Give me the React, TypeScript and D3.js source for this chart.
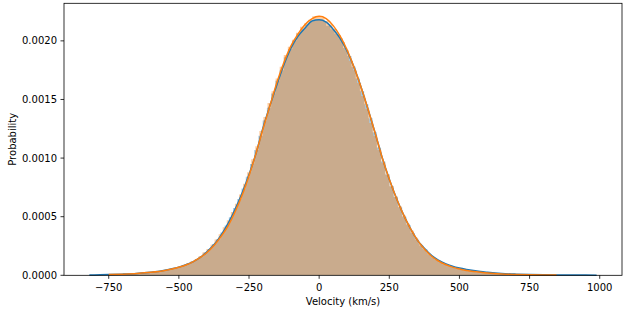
import React from "react";
import * as d3 from "d3";

// Histogram bin ranges (km/s)
const blueRange = [-819, 989];
const orangeRange = [-750, 846];

// Histogram densities (units of 1e-5)
const blueHist = [
  0.3, 0.4, 0.4, 0.5, 0.6, 0.7, 0.8, 0.9, 1.1, 1.2,
  1.4, 1.6, 1.9, 2.2, 2.6, 2.9, 3.5, 4.1, 4.7, 5.4,
  6.3, 7.3, 8.6, 9.9, 11.7, 13.6, 16.2, 19.4, 22.5, 26.8,
  30.8, 36.5, 42.5, 49.5, 57.5, 65, 74, 84, 95, 107,
  119, 132, 143, 155, 166, 175, 186, 193, 200, 206,
  210, 214, 216, 218, 218, 217, 213, 210, 206, 202,
  194, 187, 178, 168, 157, 146, 134, 122, 109, 97,
  86, 76, 67, 58, 50, 43, 36, 30.5, 25.5, 22,
  18, 15, 13, 11, 9.5, 8.2, 7.1, 6.2, 5.5, 4.7,
  4.2, 3.7, 3.2, 2.8, 2.5, 2.1, 1.8, 1.6, 1.4, 1.2,
  1.0, 0.9, 0.8, 0.7, 0.6, 0.5, 0.5, 0.4, 0.4, 0.3,
  0.3, 0.3, 0.2, 0.2, 0.2, 0.2, 0.1, 0.1, 0.1, 0.1,
];

const orangeHist = [
  0.6, 0.7, 0.8, 0.9, 1.0, 1.2, 1.4, 1.6, 1.9, 2.2,
  2.5, 2.9, 3.4, 4.0, 4.6, 5.3, 6.2, 7.2, 8.4, 10.0,
  11.8, 13.4, 16, 19.5, 22.5, 26, 30.5, 35, 41, 47,
  54, 61, 69, 78, 88, 99, 110, 123, 135, 147,
  157, 168, 178, 188, 195, 201, 207, 212, 215, 218,
  221, 221, 220, 217, 214, 210, 205, 199, 192, 183,
  175, 164, 153, 142, 130, 119, 107, 96, 86, 76,
  67, 59, 51, 44, 38, 32, 27, 22.5, 19, 16,
  13.2, 11, 9.3, 7.8, 6.6, 5.6, 4.8, 4.1, 3.5, 3.0,
  2.6, 2.2, 1.9, 1.6, 1.4, 1.2, 1.0, 0.9, 0.8, 0.7,
  0.6, 0.5, 0.5, 0.4, 0.4, 0.3, 0.3, 0.3, 0.2, 0.2,
];

// KDE curves (x in km/s, density in 1e-5)
const blueKdeX = [
  -819, -800, -750, -700, -650, -600, -575, -550, -525, -500, -475, -450, -425, -400,
  -375, -350, -325, -300, -275, -250, -225, -200, -175, -150, -125, -100, -75, -50, -25,
  0, 25, 50, 75, 100, 125, 150, 175, 200, 225, 250, 275, 300, 325, 350, 375, 400,
  425, 450, 475, 500, 525, 550, 575, 600, 650, 700, 750, 800, 850, 900, 950, 989,
];
const blueKdeY = [
  0.3, 0.35, 0.6, 1.0, 1.6, 2.6, 3.3, 4.3, 5.5, 7, 9, 11.5, 15, 20,
  26, 34, 44, 56, 70, 86, 104, 126, 145, 163, 180, 194, 204, 211, 217,
  218, 216, 210, 202, 191, 177, 160, 141, 121, 100, 82, 66, 52, 40, 30, 23, 17,
  13, 10, 7.8, 6.2, 5, 4, 3.2, 2.6, 1.6, 1.0, 0.6, 0.4, 0.3, 0.2, 0.15, 0.1,
];

const orangeKdeX = [
  -750, -700, -650, -600, -550, -500, -475, -450, -425, -400, -375, -350, -325, -300,
  -275, -250, -225, -200, -175, -150, -125, -100, -75, -50, -25, 0, 25, 50, 75, 100,
  125, 150, 175, 200, 225, 250, 275, 300, 325, 350, 375, 400, 425, 450, 475, 500,
  525, 550, 575, 600, 650, 700, 750, 800, 846,
];
const orangeKdeY = [
  0.6, 0.95, 1.5, 2.5, 4.1, 6.9, 8.8, 11.5, 15, 19.5, 25.5, 33, 42, 54,
  68, 85, 104, 125, 145, 165, 182, 196, 206, 214, 219, 221, 219, 213, 204, 192,
  177, 160, 141, 121, 100, 82, 66, 52, 40, 30, 22.5, 16.5, 12.2, 9.2, 7.0, 5.3,
  4.1, 3.2, 2.5, 1.9, 1.1, 0.7, 0.45, 0.3, 0.2,
];

const xTicks = [-750, -500, -250, 0, 250, 500, 750, 1000];
const yTicks = [0, 0.0005, 0.001, 0.0015, 0.002];

const W = 629;
const H = 311;
const left = 64;
const right = 622;
const top = 3.3;
const bottom = 275.3;
const BLUE = "#1f77b4";
const ORANGE = "#ff7f0e";
const FONT = "DejaVu Sans, sans-serif";

function binPoints(range: number[], vals: number[]): [number, number][] {
  const w = (range[1] - range[0]) / vals.length;
  const pts: [number, number][] = vals.map((v, i) => [range[0] + i * w, v * 1e-5]);
  pts.push([range[1], vals[vals.length - 1] * 1e-5]);
  return pts;
}

export default function App() {
  const dataMin = Math.min(blueRange[0], orangeRange[0]);
  const dataMax = Math.max(blueRange[1], orangeRange[1]);
  const pad = (dataMax - dataMin) * 0.05;
  const x = d3.scaleLinear().domain([dataMin - pad, dataMax + pad]).range([left, right]);
  const yMax = Math.max(d3.max(blueHist)!, d3.max(orangeHist)!) * 1e-5 * 1.05;
  const y = d3.scaleLinear().domain([0, yMax]).range([bottom, top]);

  const line = d3
    .line<[number, number]>()
    .x((d) => x(d[0]))
    .y((d) => y(d[1] * 1e-5))
    .curve(d3.curveMonotoneX);

  const area = d3
    .area<[number, number]>()
    .x((d) => x(d[0]))
    .y0(y(0))
    .y1((d) => y(d[1]))
    .curve(d3.curveStepAfter);

  const fmtY = (v: number) => v.toFixed(4);
  const fmtX = (v: number) => (v < 0 ? "\u2212" + Math.abs(v) : String(v));

  return (
    <svg width={W} height={H} style={{ position: "absolute", left: 0, top: 0, background: "#fff" }}>
      <path d={area(binPoints(blueRange, blueHist)) || ""} fill={BLUE} fillOpacity={0.4} />
      <path d={area(binPoints(orangeRange, orangeHist)) || ""} fill={ORANGE} fillOpacity={0.4} />
      <path d={line(blueKdeX.map((v, i) => [v, blueKdeY[i]]) as any) || ""} fill="none" stroke={BLUE} strokeWidth={1.5} />
      <path d={line(orangeKdeX.map((v, i) => [v, orangeKdeY[i]]) as any) || ""} fill="none" stroke={ORANGE} strokeWidth={1.5} />
      <rect x={left} y={top} width={right - left} height={bottom - top} fill="none" stroke="#000" strokeWidth={0.8} />
      {xTicks.map((t) => (
        <g key={"xt" + t} transform={`translate(${x(t)},${bottom})`}>
          <line y2={3.5} stroke="#000" strokeWidth={0.8} />
          <text y={16} textAnchor="middle" fontFamily={FONT} fontSize={10} fill="#000">
            {fmtX(t)}
          </text>
        </g>
      ))}
      {yTicks.map((t) => (
        <g key={"yt" + t} transform={`translate(${left},${y(t)})`}>
          <line x2={-3.5} stroke="#000" strokeWidth={0.8} />
          <text x={-7} dy="0.35em" textAnchor="end" fontFamily={FONT} fontSize={10} fill="#000">
            {fmtY(t)}
          </text>
        </g>
      ))}
      <text x={(left + right) / 2} y={305} textAnchor="middle" fontFamily={FONT} fontSize={10} fill="#000">
        Velocity (km/s)
      </text>
      <text transform={`translate(16,${(top + bottom) / 2}) rotate(-90)`} textAnchor="middle" fontFamily={FONT} fontSize={10} fill="#000">
        Probability
      </text>
    </svg>
  );
}
